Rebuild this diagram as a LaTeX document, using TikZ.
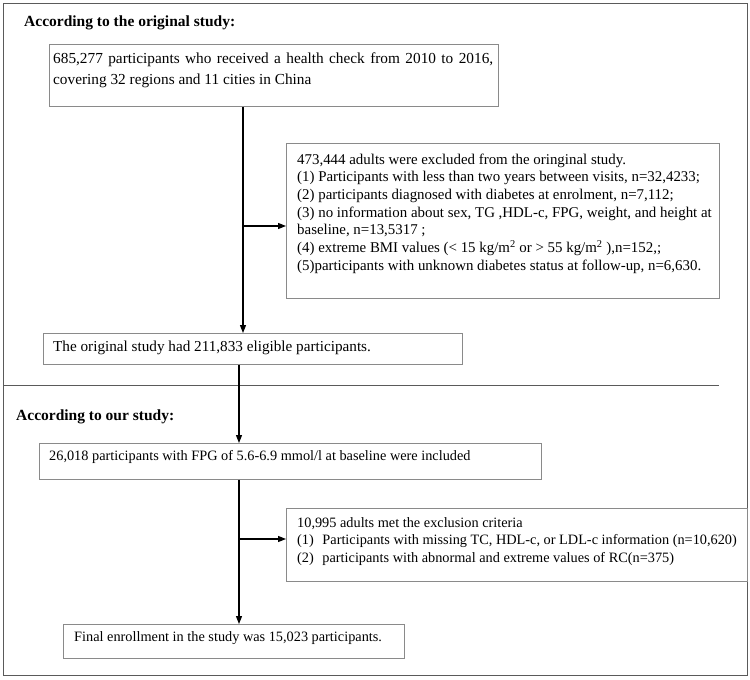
\documentclass[tikz,border=0pt]{standalone}
\usepackage{fontspec}
\setmainfont{Liberation Serif}
\usetikzlibrary{arrows.meta}
\definecolor{boxgray}{HTML}{8A8A8A}
\definecolor{framegray}{HTML}{5A5A5A}
\begin{document}
\begin{tikzpicture}[x=1pt,y=-1pt,
  box/.style={draw=boxgray, line width=0.9pt, anchor=north west, inner sep=0pt},
  txt/.style={anchor=north west, inner sep=0pt, align=left, font=\fontsize{14.3}{17.6}\selectfont},
  exctxt/.style={anchor=north west, inner sep=0pt, align=left, font=\fontsize{14.9}{17.7}\selectfont},
  bigtxt/.style={anchor=north west, inner sep=0pt, align=left, font=\fontsize{15.3}{21}\selectfont},
  ttl/.style={anchor=west, inner sep=0pt, font=\fontsize{15.5}{18}\selectfont\bfseries},
  arr/.style={line width=1.1pt, -{Triangle[length=8pt,width=6pt]}},
  ln/.style={line width=1.1pt}]
\useasboundingbox (0,0) rectangle (750,680);
\draw[draw=framegray, line width=1pt] (3,3) rectangle (747,675);
\draw[draw=framegray, line width=1pt] (3,385) -- (719,385);

\node[ttl] (h1) at (24,23) {According to the original study:};
\node[ttl] (h2) at (16,417) {According to our study:};

% boxes
\node[box, minimum width=449, minimum height=62] (b1) at (49,44) {};
\node[box, minimum width=433, minimum height=155] (b2) at (286,143) {};
\node[box, minimum width=419, minimum height=31] (b3) at (43,333) {};
\node[box, minimum width=502, minimum height=36] (b4) at (39,443) {};
\node[box, minimum width=461, minimum height=73] (b5) at (286,508) {};
\node[box, minimum width=341, minimum height=34] (b6) at (63,624) {};

% texts
\node[bigtxt] (t1) at (53,53) {\makebox[440pt][s]{685,277 participants who received a health check from 2010 to 2016,}\\covering 32 regions and 11 cities in China};
\node[exctxt] (t2) at (297,153.5) {473,444 adults were excluded from the oringinal study.\\
(1) Participants with less than two years between visits, n=32,4233;\\
(2) participants diagnosed with diabetes at enrolment, n=7,112;\\
(3) no information about sex, TG ,HDL-c, FPG, weight, and height at\\
baseline, n=13,5317 ;\\
(4) extreme BMI values (< 15 kg/m\textsuperscript{2} or > 55 kg/m\textsuperscript{2} ),n=152,;\\
(5)participants with unknown diabetes status at follow-up, n=6,630.};
\node[txt, anchor=west, font=\fontsize{15.2}{18}\selectfont] (t3) at (53,348) {The original study had 211,833 eligible participants.};
\node[txt, anchor=west] (t4) at (49,457) {26,018 participants with FPG of 5.6-6.9 mmol/l at baseline were included};
\node[txt] (t5) at (297,517) {10,995 adults met the exclusion criteria\\
(1)\hspace{0.6em}Participants with missing TC, HDL-c, or LDL-c information (n=10,620)\\
(2)\hspace{0.6em}participants with abnormal and extreme values of RC(n=375)};
\node[txt, anchor=west] (t6) at (74,638) {Final enrollment in the study was 15,023 participants.};

% connectors
\coordinate (xa) at (243,0);
\coordinate (xb) at (239,0);
\coordinate (j1) at (243,226);
\coordinate (j2) at (239,539);
\draw[arr] (b1.south -| xa) -- (b3.north -| xa);
\draw[arr] (j1) -- (b2.west |- j1);
\draw[arr] (b3.south -| xb) -- (b4.north -| xb);
\draw[arr] (b4.south -| xb) -- (b6.north -| xb);
\draw[arr] (j2) -- (b5.west |- j2);
\end{tikzpicture}
\end{document}
